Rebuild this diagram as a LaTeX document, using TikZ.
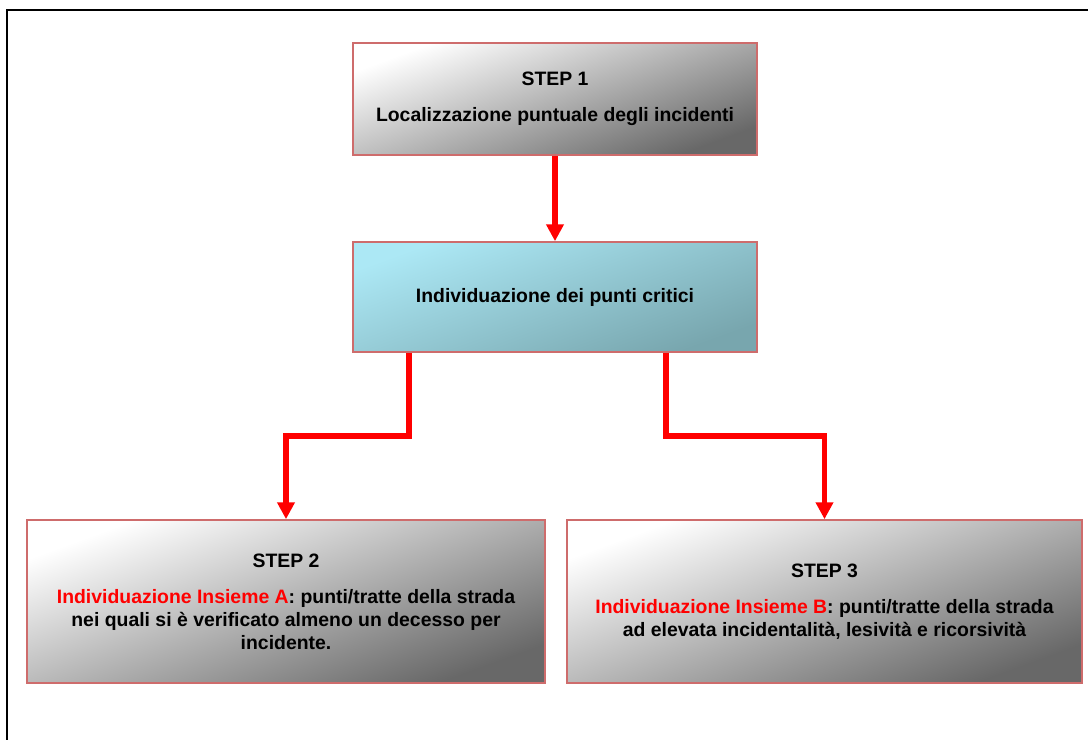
\documentclass[tikz,border=0pt]{standalone}
\usepackage{fontspec}
\setmainfont{Liberation Sans}
\usetikzlibrary{arrows.meta,positioning,calc}
\definecolor{boxline}{RGB}{206,108,108}
\definecolor{boxdark}{RGB}{104,104,104}
\definecolor{critlight}{RGB}{172,232,245}
\definecolor{critdark}{RGB}{120,166,174}

\begin{document}
\begin{tikzpicture}[x=0.025cm, y=-0.025cm,
		stepbox/.style={draw=boxline, line width=1.1pt, rectangle, inner sep=0pt, align=center,
			font=\bfseries\fontsize{13.8}{16.3}\selectfont,
			top color=white, bottom color=boxdark, shading angle=20},
		critbox/.style={stepbox, top color=critlight, bottom color=critdark, shading angle=20},
		flow/.style={draw=red, line width=4.2pt, -{Triangle[width=12pt,length=12pt]}}]
	\useasboundingbox (0,0) rectangle (1088,740);
	\draw [line width=1.4pt] (7,740) -- (7,10) -- (1088,10);
	\node [stepbox, minimum width=10.1cm, minimum height=2.8cm] (s1) at (555,99)
		{STEP 1\\[9.5pt] Localizzazione puntuale degli incidenti};
	\node [critbox, minimum width=10.1cm, minimum height=2.75cm] (crit) at (555,297)
		{Individuazione dei punti critici};
	\node [stepbox, minimum width=12.95cm, minimum height=4.075cm] (s2) at (286,601.5)
		{STEP 2\\[9.5pt] {\color{red}Individuazione Insieme A}: punti/tratte della strada\\
		nei quali si è verificato almeno un decesso per\\ incidente.};
	\node [stepbox, minimum width=12.875cm, minimum height=4.075cm] (s3) at (824.5,601.5)
		{STEP 3\\[9.5pt] {\color{red}Individuazione Insieme B}: punti/tratte della strada\\
		ad elevata incidentalità, lesività e ricorsività};
	\coordinate (kA) at (409,436);
	\coordinate (kB) at (666,436);
	\draw [flow] (s1) -- (crit);
	\draw [flow] (crit.south -| kA) -- (kA) -| (s2.north);
	\draw [flow] (crit.south -| kB) -- (kB) -| (s3.north);
\end{tikzpicture}
\end{document}
